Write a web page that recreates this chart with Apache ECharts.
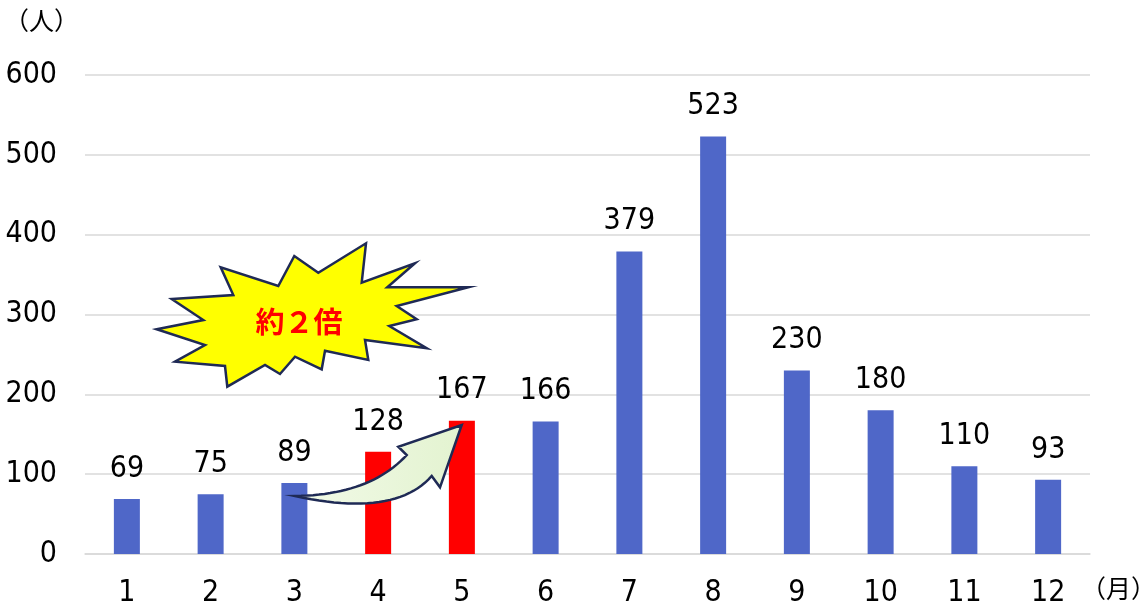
<!DOCTYPE html>
<html><head><meta charset="utf-8">
<script src="https://cdn.jsdelivr.net/npm/echarts@6/dist/echarts.min.js"></script>
<style>html,body{margin:0;padding:0;background:#fff}#c{width:1148px;height:608px}</style>
</head><body><div id="c"></div>
<script>
const months = ['1','2','3','4','5','6','7','8','9','10','11','12'];
const values = [69,75,89,128,167,166,379,523,230,180,110,93];
const highlight = [false,false,false,true,true,false,false,false,false,false,false,false];
const yTicks = {min:0, max:600, interval:100};
const yUnit = '（人）';
const xUnit = '（月）';
const burstText = '約２倍';

const NUM_FONT = "'DejaVu Sans Condensed','Liberation Sans',sans-serif";
const CJK_FONT = "'Noto Sans CJK JP',sans-serif";
const BLUE = '#4F67C8', RED = '#FF0000', NAVY = '#1F2A55';

const chart = echarts.init(document.getElementById('c'));
const burst = [[156.7,329.3],[203.3,320],[171.7,299],[233.3,295],[220.7,267.3],[278.3,286],[294.3,256],[318.3,272.7],[366,243.3],[361.7,282.7],[415,263.3],[387.3,287.3],[468.3,287.3],[396.7,306],[416.7,319.3],[389.3,326],[426.7,348.3],[365,340],[368.3,360],[325,350.7],[321.7,369.3],[295,356.7],[280,374],[265,365],[227.3,386.7],[225,366],[175,361.7],[205,345]];

function quad(p0,c,p1,n){const out=[];for(let i=0;i<=n;i++){const t=i/n,u=1-t;out.push([u*u*p0[0]+2*u*t*c[0]+t*t*p1[0],u*u*p0[1]+2*u*t*c[1]+t*t*p1[1]]);}return out;}
const arrow = [].concat(
  quad([295,496],[370,495],[406.7,455],24),
  [[398.3,446.7],[461.7,425],[440,487.3],[431.7,476]],
  quad([431.7,476],[395,518],[295,496],24).slice(1,-1)
);

chart.setOption({
  animation:false,
  grid:{left:85,right:58,top:75,bottom:52},
  xAxis:{type:'category',data:months,
    axisLine:{lineStyle:{color:'#D9D9D9',width:1.5}},axisTick:{show:false},
    axisLabel:{color:'#000',fontSize:30,fontFamily:NUM_FONT,margin:24}},
  yAxis:{type:'value',min:yTicks.min,max:yTicks.max,interval:yTicks.interval,
    axisLine:{show:false},axisTick:{show:false},
    splitLine:{lineStyle:{color:'#D9D9D9',width:1.5}},
    axisLabel:{color:'#000',fontSize:30,fontFamily:NUM_FONT,margin:28}},
  series:[{type:'bar',barWidth:26,
    data:values.map((v,i)=>({value:v,itemStyle:{color:highlight[i]?RED:BLUE}})),
    label:{show:true,position:'top',distance:15,color:'#000',fontSize:30,fontFamily:NUM_FONT}}],
  graphic:[
    {type:'text',x:4,y:8,style:{text:yUnit,font:'25px '+CJK_FONT,fill:'#000'}},
    {type:'text',x:1081,y:576,style:{text:xUnit,font:'25px '+CJK_FONT,fill:'#000'}},
    {type:'polygon',shape:{points:burst},style:{fill:'#FFFF00',stroke:NAVY,lineWidth:2.5,lineJoin:'miter'},z:10},
    {type:'text',x:299,y:322,z:11,style:{text:burstText,font:'bold 29px '+CJK_FONT,fill:'#FF0000',align:'center',verticalAlign:'middle'}},
    {type:'polygon',z:10,shape:{points:arrow},
      style:{fill:new echarts.graphic.LinearGradient(0,0,1,0,[{offset:0,color:'#F2FAE8'},{offset:1,color:'#E3F3D0'}]),stroke:NAVY,lineWidth:2.5,lineJoin:'miter'}}
  ]
});
</script></body></html>
